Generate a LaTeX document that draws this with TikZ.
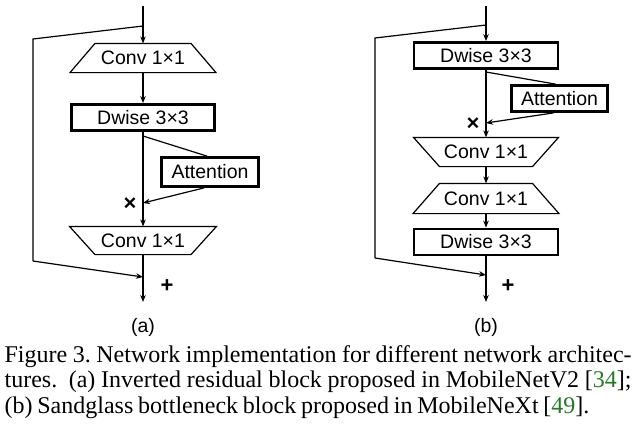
\documentclass[tikz,border=0pt]{standalone}
\usepackage{fontspec}
\setmainfont[WordSpace={0.8,1.5,0.6}]{Liberation Serif}
\newfontfamily\diafont{Liberation Sans}
\usetikzlibrary{arrows.meta,calc}
\definecolor{citegreen}{RGB}{40,120,40}
\begin{document}
\begin{tikzpicture}[x=1pt,y=-1pt,
  line width=1.2pt,
  arr/.style={-{Stealth[length=7pt,width=5.5pt]}},
  lbl/.style={draw=none,inner sep=0pt,font=\diafont\fontsize{19.5}{22}\selectfont},
  thickbox/.style={lbl,draw,line width=2.8pt,minimum width=#1,minimum height=26pt},
  trap/.style={line width=1.2pt},
  sym/.style={inner sep=0pt,font=\diafont\bfseries\fontsize{22}{24}\selectfont},
  capline/.style={anchor=base west,inner sep=0pt,font=\frenchspacing\fontsize{24}{25.5}\selectfont}
]
\useasboundingbox (0,0) rectangle (634,432);
\newcommand{\trapdown}[3]{% name, narrow half-width at top, wide half-width at bottom
  \draw[trap] ($(#1.north)+(-#2,0)$) -- ($(#1.north)+(#2,0)$) -- ($(#1.south)+(#3,0)$) -- ($(#1.south)+(-#3,0)$) -- cycle;}
\newcommand{\trapup}[3]{% name, wide half-width at top, narrow half-width at bottom
  \draw[trap] ($(#1.north)+(-#2,0)$) -- ($(#1.north)+(#2,0)$) -- ($(#1.south)+(#3,0)$) -- ($(#1.south)+(-#3,0)$) -- cycle;}

% ---------------- panel (a) ----------------
\coordinate (a0) at (143,6);
\coordinate (a1) at (143,26);
\coordinate (a2) at (33,39);
\coordinate (a3) at (33,261);
\coordinate (a4) at (143,277);
\coordinate (a5) at (143,136);
\coordinate (ax) at (143,203);
\coordinate (aend) at (143,302);
\node[lbl,minimum width=96pt,minimum height=28pt] (ac1) at (143,58) {Conv 1×1};
\trapdown{ac1}{48}{73}
\node[thickbox=143pt] (adw) at (143,117.5) {Dwise 3×3};
\node[thickbox=97pt,minimum height=29pt] (aat) at (210,172) {Attention};
\node[lbl,minimum width=96pt,minimum height=27pt] (ac2) at (143,240.5) {Conv 1×1};
\trapup{ac2}{73.5}{48}
\draw (a0) -- (a1);
\draw[arr] (a1) -- (ac1.north);
\draw (a1) -- (a2) -- (a3);
\draw[arr] (a3) -- (a4);
\draw[arr] (ac1.south) -- (adw.north);
\draw[arr] (adw.south) -- (ac2.north);
\draw (a5) -- ($(aat.north)+(-3,0)$);
\draw[arr] ($(aat.south)+(-6,0)$) -- (ax);
\draw[arr] (ac2.south) -- (aend);
\node[sym] (atimes) at (130,204) {×};
\node[sym] (aplus) at (167,286) {+};
\node[lbl] (alab) at (143,327) {(a)};

% ---------------- panel (b) ----------------
\coordinate (b0) at (486,6);
\coordinate (b1) at (486,25);
\coordinate (b2) at (375,38);
\coordinate (b3) at (375,258);
\coordinate (b4) at (486,275);
\coordinate (b5) at (486,72);
\coordinate (bx) at (486,123);
\coordinate (bend) at (486,302);
\node[thickbox=144pt] (bdw1) at (486,55.5) {Dwise 3×3};
\node[thickbox=96pt] (bat) at (559.5,98.5) {Attention};
\node[lbl,minimum width=93pt,minimum height=28pt] (bc1) at (486,152) {Conv 1×1};
\trapup{bc1}{72.5}{46.5}
\node[lbl,minimum width=93pt,minimum height=29pt] (bc2) at (486,198.5) {Conv 1×1};
\trapdown{bc2}{46.5}{73}
\node[thickbox=144pt] (bdw2) at (486,242) {Dwise 3×3};
\draw (b0) -- (b1);
\draw[arr] (b1) -- (bdw1.north);
\draw (b1) -- (b2) -- (b3);
\draw[arr] (b3) -- (b4);
\draw[arr] (bdw1.south) -- (bc1.north);
\draw (b5) -- ($(bat.north)+(-4,0)$);
\draw[arr] ($(bat.south)+(-6,0)$) -- (bx);
\draw[arr] (bc1.south) -- (bc2.north);
\draw[arr] (bc2.south) -- (bdw2.north);
\draw[arr] (bdw2.south) -- (bend);
\node[sym] (btimes) at (473,124) {×};
\node[sym] (bplus) at (508,286) {+};
\node[lbl] (blab) at (486,327) {(b)};

% ---------------- caption ----------------
\node[capline] (cap1) at (4,362) {\makebox[627pt][s]{Figure 3. Network implementation for different network architec-}};
\node[capline] (cap2) at (4,387.5) {\makebox[627pt][s]{tures. \ (a) Inverted residual block proposed in MobileNetV2 [\textcolor{citegreen}{34}];}};
\node[capline] (cap3) at (4,413) {(b) Sandglass bottleneck block proposed in MobileNeXt [\textcolor{citegreen}{49}].};
\end{tikzpicture}
\end{document}
